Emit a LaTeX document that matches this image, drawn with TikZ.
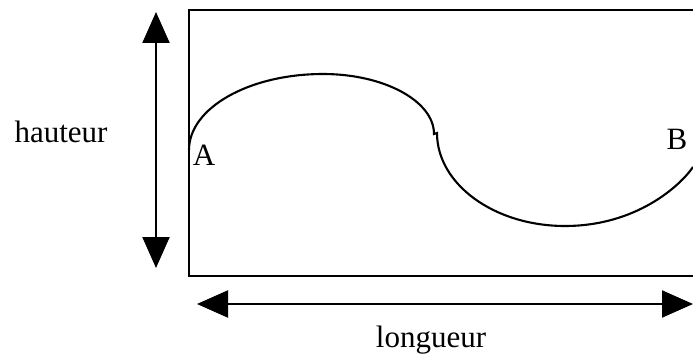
\documentclass[tikz,border=0pt]{standalone}
\usepackage{fontspec}
\setmainfont{Liberation Serif}
\usetikzlibrary{arrows.meta}
\begin{document}
\begin{tikzpicture}[x=1pt,y=-1pt,
  lbl/.style={inner sep=0pt,anchor=base,font=\fontsize{31}{36}\selectfont},
  dimarrow/.style={line width=2.1pt,{Triangle[length=31pt,width=27pt]}-{Triangle[length=31pt,width=27pt]}},
  thick line/.style={line width=2.1pt}]
\useasboundingbox (0,0) rectangle (693,358);
\clip (0,0) rectangle (693,358);
% frame
\draw[thick line] (189,10) rectangle (720,276);
% dimension arrows
\coordinate (vtop) at (156,12);
\coordinate (vbot) at (156,268);
\coordinate (hleft) at (197,304);
\coordinate (hright) at (693,304);
\draw[dimarrow] (vtop) -- (vbot);
\draw[dimarrow] (hleft) -- (hright);
% curve
\coordinate (A) at (189,150);
\coordinate (top) at (323,74);
\coordinate (m1) at (434,134);
\coordinate (m2) at (437,133);
\coordinate (bot) at (565,226);
\coordinate (B) at (693,167);
\draw[thick line] (A) .. controls (189,108) and (249,74) .. (top)
  .. controls (384,74) and (434,101) .. (m1) -- (m2)
  .. controls (437,184) and (494,226) .. (bot)
  .. controls (636,226) and (680,186) .. (B);
% labels
\node[lbl] (hauteur) at (61,143) {hauteur};
\node[lbl] (lA) at (204,166) {A};
\node[lbl] (lB) at (677,150) {B};
\node[lbl] (longueur) at (431,347) {longueur};
\end{tikzpicture}
\end{document}
